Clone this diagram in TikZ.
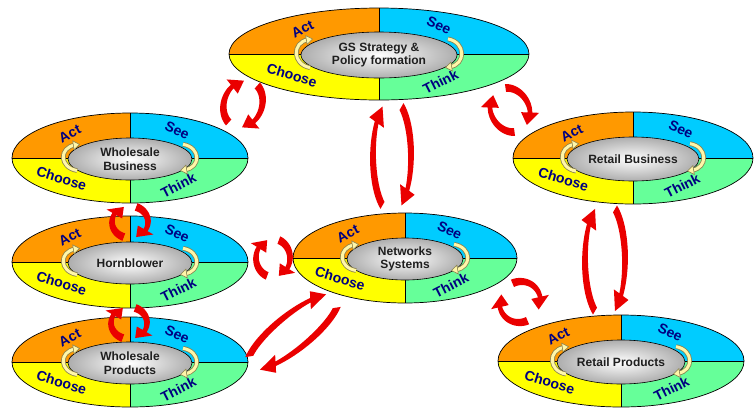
\documentclass[tikz,border=0pt]{standalone}
\usepackage{fontspec}
\setmainfont{Liberation Sans}
\usetikzlibrary{shapes.geometric,arrows.meta,calc}
\definecolor{actc}{HTML}{FF9900}
\definecolor{seec}{HTML}{00CCFF}
\definecolor{choc}{HTML}{FFFF00}
\definecolor{thic}{HTML}{66FF99}
\definecolor{navyc}{HTML}{000080}
\definecolor{ylight}{HTML}{FFF6A8}
\definecolor{ydark}{HTML}{8A8250}
\definecolor{redA}{HTML}{EA0000}
\def\rwA{8}\def\rwB{4.5}\def\rhw{9}
\tikzset{
  quadlbl/.style={text=navyc, font=\fontsize{14}{14}\selectfont\bfseries, inner sep=0pt},
  centre/.style={ellipse, draw=black, line width=0.6pt, inner color=white, outer color=black!32,
    inner sep=0pt, align=center, font=\fontsize{12}{13.5}\selectfont\bfseries, text=black!88},
  rim/.style={draw=black, line width=0.7pt},
  redarrow/.style={fill=redA},
  ybody/.style={ydark, line width=4.6pt, shorten >=5pt},
  ybodyin/.style={ylight, line width=3pt, shorten >=5pt},
  ytip/.style={ydark, line width=0.6pt, -{Triangle[length=7pt,width=10pt,fill=ylight]}}
}
\newcommand{\yarr}[4]{%
  \draw[ybody] #1 .. controls #2 and #3 .. #4;
  \draw[ybodyin] #1 .. controls #2 and #3 .. #4;
  \draw[ytip] ($#3!0.8!#4$) -- #4;
}
% name cx cy rx ry irx iry label
\newcommand{\cyc}[8]{%
  \begin{scope}
    \clip (#2,#3) ellipse [x radius=#4, y radius=#5];
    \fill[actc] ({#2-#4},{#3-#5}) rectangle (#2,#3);
    \fill[seec] (#2,{#3-#5}) rectangle ({#2+#4},#3);
    \fill[choc] ({#2-#4},#3) rectangle (#2,{#3+#5});
    \fill[thic] (#2,#3) rectangle ({#2+#4},{#3+#5});
  \end{scope}
  \draw[rim] ({#2-#4},#3) -- ({#2+#4},#3) (#2,{#3-#5}) -- (#2,{#3+#5});
  \node[ellipse, rim, minimum width={2*#4}, minimum height={2*#5}, inner sep=0pt] (#1-rim) at (#2,#3) {};
  \node[quadlbl, rotate=27] at ({#2-0.51*#4},{#3-0.54*#5}) {Act};
  \node[quadlbl, rotate=-25] at ({#2+0.40*#4},{#3-0.62*#5}) {See};
  \node[quadlbl, rotate=-17] at ({#2-0.58*#4},{#3+0.46*#5}) {Choose};
  \node[quadlbl, rotate=27] at ({#2+0.41*#4},{#3+0.60*#5}) {Think};
  \node[centre, minimum width={2*#6}, minimum height={2*#7}] (#1) at (#2,{#3+1}) {#8};
  \yarr{({#2-#6+9},{#3+1+0.55*#7})}{({#2-#6-9},{#3+1+0.4*#7})}{({#2-#6-9},{#3+1-0.55*#7})}{({#2-#6+12},{#3+1-0.7*#7})}
  \yarr{({#2+#6-9},{#3+1-0.7*#7})}{({#2+#6+9},{#3+1-0.55*#7})}{({#2+#6+9},{#3+1+0.4*#7})}{({#2+#6-12},{#3+1+0.55*#7})}
}
% rx ry t0 t1 headspan
\newcommand{\carrow}[5]{%
  \pgfmathsetmacro\cta{#3}\pgfmathsetmacro\ctc{#4}\pgfmathsetmacro\ctb{\ctc-(#5)}%
  \pgfmathsetmacro\crx{#1}\pgfmathsetmacro\cry{#2}%
  \fill[redarrow] plot[variable=\u, domain=0:1, samples=18]
      ({(\crx+(\rwA+(\rwB-\rwA)*\u)/2)*cos(\cta+(\ctb-\cta)*\u)},{(\cry+(\rwA+(\rwB-\rwA)*\u)/2)*sin(\cta+(\ctb-\cta)*\u)})
    -- ({(\crx+\rhw)*cos(\ctb)},{(\cry+\rhw)*sin(\ctb)})
    -- ({\crx*cos(\ctc)},{\cry*sin(\ctc)})
    -- ({(\crx-\rhw)*cos(\ctb)},{(\cry-\rhw)*sin(\ctb)})
    -- plot[variable=\u, domain=0:1, samples=18]
      ({(\crx-(\rwB+(\rwA-\rwB)*\u)/2)*cos(\ctb+(\cta-\ctb)*\u)},{(\cry-(\rwB+(\rwA-\rwB)*\u)/2)*sin(\ctb+(\cta-\ctb)*\u)})
    -- cycle;
}
% cx cy rx ry rot gap headspan
\newcommand{\cpair}[7]{%
  \begin{scope}[shift={(#1,#2)}, rotate=#5]
    \carrow{#3}{#4}{90+#6}{270-#6}{#7}
    \carrow{#3}{#4}{270+#6}{450-#6}{#7}
  \end{scope}
}
\begin{document}
\begin{tikzpicture}[x=1pt,y=-1pt]
\useasboundingbox (0,0) rectangle (755,408);
\fill[white] (0,0) rectangle (755,408);
\cyc{gs}{379}{54}{150}{46}{78}{23}{GS Strategy \&\\Policy formation}
\cyc{wb}{130}{158}{118}{45}{62}{21}{Wholesale\\Business}
\cyc{hb}{130}{262}{118}{46}{62}{21}{Hornblower}
\cyc{wp}{130}{362}{118}{45}{62}{21}{Wholesale\\Products}
\cyc{ns}{405}{258}{112}{45}{58}{21}{Networks\\Systems}
\cyc{rb}{633}{158}{120}{46}{66}{22}{Retail Business}
\cyc{rp}{621}{361}{123}{46}{64}{22}{Retail Products}
% red cycle arrows
\cpair{243}{104}{19}{24}{-20}{22}{36}
\cpair{392}{156}{19}{57}{0}{30}{24}
\cpair{510}{110}{19}{23}{30}{22}{36}
\cpair{130}{222}{18}{16}{0}{20}{40}
\cpair{129}{323}{18}{16}{0}{20}{40}
\cpair{273}{258}{17}{19}{0}{20}{38}
\cpair{293}{332}{17}{57}{-51}{30}{24}
\cpair{520}{302}{21}{20}{45}{22}{36}
\cpair{605}{260}{20}{59}{0}{30}{24}
\end{tikzpicture}
\end{document}
